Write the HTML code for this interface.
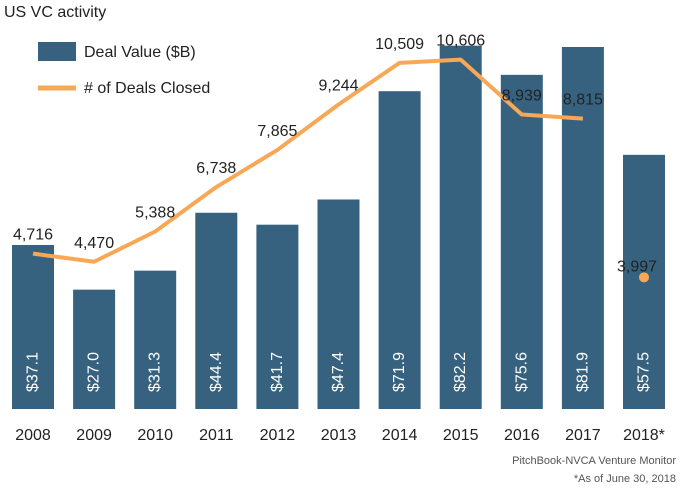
<!DOCTYPE html>
<html><head><meta charset="utf-8"><style>
body{margin:0;background:#fff;width:680px;height:487px;overflow:hidden;font-family:"Liberation Sans",sans-serif}
</style></head><body>
<svg width="680" height="487" viewBox="0 0 680 487">
<text x="4" y="17" font-size="16" fill="#222">US VC activity</text>
<g>
<rect x="38" y="42" width="38" height="19" fill="#36627F"/>
<text x="84" y="57" font-size="16" fill="#222">Deal Value ($B)</text>
<line x1="38" y1="88" x2="76" y2="88" stroke="#F7A857" stroke-width="5"/>
<text x="84" y="93" font-size="16" fill="#222"># of Deals Closed</text>
</g>
<g id="bars"></g><g id="line"></g><g id="xlabels"></g>
<text x="676" y="464" text-anchor="end" font-size="11" fill="#555">PitchBook-NVCA Venture Monitor</text>
<text x="676" y="482" text-anchor="end" font-size="11" fill="#555">*As of June 30, 2018</text>
</svg>
<script>
const categories=["2008","2009","2010","2011","2012","2013","2014","2015","2016","2017","2018*"];
const dealValues=[37.1,27.0,31.3,44.4,41.7,47.4,71.9,82.2,75.6,81.9,57.5];
const dealValueLabels=["$37.1","$27.0","$31.3","$44.4","$41.7","$47.4","$71.9","$82.2","$75.6","$81.9","$57.5"];
const dealCounts=[4716,4470,5388,6738,7865,9244,10509,10606,8939,8815,3997];
const dealCountLabels=["4,716","4,470","5,388","6,738","7,865","9,244","10,509","10,606","8,939","8,815","3,997"];
const NS="http://www.w3.org/2000/svg";
const base=409;
const xC=i=>33+i*61.1;
const yBar=v=>base-v*4.42;
const yLine=v=>base-v*0.03294;
const bw=42;
function mk(t,a,p){const e=document.createElementNS(NS,t);for(const k in a)e.setAttribute(k,a[k]);p.appendChild(e);return e;}
const gb=document.getElementById('bars'),gl=document.getElementById('line'),gx=document.getElementById('xlabels');
dealValues.forEach((v,i)=>{
 const r=mk('rect',{x:xC(i)-bw/2,y:yBar(v),width:bw,height:base-yBar(v),fill:'#36627F'},gb);
 
 
 const cx=xC(i),cy=372;
 const t=mk('text',{x:cx,y:cy,'text-anchor':'middle','dominant-baseline':'central','font-size':'16',fill:'#fff',transform:`rotate(-90 ${cx} ${cy})`},gb);
 t.textContent=dealValueLabels[i];
 
 
 const xl=mk('text',{x:cx,y:440,'text-anchor':'middle','font-size':'16',fill:'#222'},gx);
 xl.textContent=categories[i];
 
 
});
const n=dealCounts.length-1;
const pts=dealCounts.slice(0,n).map((v,i)=>xC(i)+','+yLine(v)).join(' ');
const pl=mk('polyline',{points:pts,fill:'none',stroke:'#F7A857','stroke-width':4,'stroke-linejoin':'round'},gl);


const dot=mk('circle',{cx:xC(n),cy:yLine(dealCounts[n]),r:5,fill:'#F7A857'},gl);


dealCounts.forEach((v,i)=>{
 const last=i===n;
 const t=mk('text',{x:xC(i)-(last?7:0),y:last?yLine(v)-6:yLine(v)-14,'text-anchor':'middle','font-size':'16',fill:'#222'},gl);
 t.textContent=dealCountLabels[i];
 
 
});
</script>
</body></html>
